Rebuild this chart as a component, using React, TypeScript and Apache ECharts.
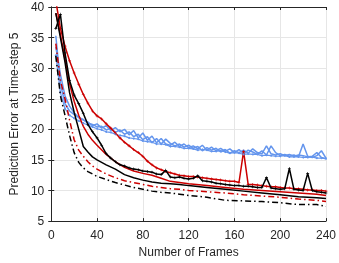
import React, { useEffect, useRef } from "react";
import * as echarts from "echarts";

// x positions (number of frames)
const framesFine = [
  4, 8, 12, 16, 20, 24, 28, 32, 36, 40, 44, 48, 52, 56, 60, 64, 68, 72, 76, 80,
  84, 88, 92, 96, 100, 104, 108, 112, 116, 120, 124, 128, 132, 136, 140, 144, 148, 152, 156, 160,
  164, 168, 172, 176, 180, 184, 188, 192, 196, 200, 204, 208, 212, 216, 220, 224, 228, 232, 236, 240,
];
const framesCoarse = [
  4, 8, 12, 16, 20, 24, 28, 32, 36, 40, 48, 56, 64, 72, 80, 88, 96, 104, 112, 120,
  136, 152, 168, 184, 200, 216, 232, 240,
];

// Blue series (fine)
const blueA = [
  35.3, 27.5, 24.2, 23.0, 22.4, 22.0, 21.5, 21.2, 20.6, 20.9, 20.2, 20.6, 19.8, 20.3, 19.6, 20.0, 19.1, 19.8, 18.6, 19.4,
  18.2, 18.9, 17.8, 18.5, 17.6, 17.4, 17.9, 17.2, 17.6, 17.0, 17.3, 16.8, 17.4, 16.6, 17.1, 16.5, 16.9, 16.4, 16.8, 16.2,
  16.7, 16.0, 16.6, 16.3, 15.9, 16.5, 15.8, 17.3, 16.2, 15.7, 15.9, 15.6, 15.8, 15.5, 17.6, 15.6, 15.4, 15.7, 16.5, 15.3,
];
const blueB = [
  32.1, 26.0, 23.4, 22.3, 21.8, 21.4, 21.0, 20.7, 20.4, 20.1, 19.9, 19.6, 19.5, 19.2, 19.0, 18.9, 18.6, 18.5, 18.4, 18.1,
  18.0, 17.9, 17.6, 17.6, 17.5, 17.2, 17.2, 17.1, 16.9, 16.9, 16.8, 16.6, 16.7, 16.6, 16.4, 16.4, 16.5, 16.3, 16.1, 16.2,
  16.1, 15.9, 16.0, 15.9, 15.9, 15.7, 15.8, 15.7, 15.6, 15.6, 15.7, 15.5, 15.5, 15.5, 15.4, 15.4, 15.5, 15.3, 15.3, 15.2,
];
const blueC = [
  33.5, 29.0, 25.5, 23.8, 22.7, 21.9, 21.6, 21.0, 20.8, 20.4, 20.5, 19.9, 20.2, 19.5, 19.9, 19.2, 19.6, 18.8, 19.2, 18.3,
  18.8, 17.8, 18.5, 17.6, 18.4, 17.7, 17.3, 17.6, 17.1, 17.4, 16.9, 17.2, 16.5, 17.0, 16.6, 16.9, 16.3, 16.7, 16.1, 16.5,
  16.2, 16.6, 16.1, 16.8, 16.2, 16.0, 17.3, 16.0, 15.8, 16.0, 15.7, 15.9, 15.6, 15.8, 15.7, 15.5, 15.6, 16.2, 15.4, 15.2,
];

// Red series
const redA = [
  41.0, 36.5, 33.6, 31.2, 29.2, 27.4, 25.7, 24.3, 23.0, 22.2, 21.7, 20.9, 20.2, 19.4, 18.6, 17.9, 17.3, 16.7, 16.2, 15.6,
  14.8, 14.2, 13.7, 13.4, 13.1, 12.9, 12.7, 12.5, 12.4, 12.3, 12.3, 12.2, 12.1, 12.0, 11.9, 11.8, 11.7, 11.6, 11.5, 11.5,
  11.3, 16.4, 11.0, 11.0, 10.9, 10.8, 10.7, 10.6, 10.6, 10.5, 10.4, 10.4, 10.3, 10.3, 10.2, 10.1, 10.1, 10.0, 10.0, 9.9,
];
const redB = [
  39.0, 35.5, 31.5, 27.5, 24.6, 22.3, 20.5, 19.2, 18.2, 17.4, 15.9, 14.7, 13.8, 13.2, 12.8, 12.5, 12.0, 11.5, 11.3, 11.1,
  10.8, 10.5, 10.2, 10.0, 9.8, 9.6, 9.4, 9.2,
];
const redC = [
  34.0, 28.0, 25.0, 21.5, 18.3, 16.6, 15.6, 14.7, 14.0, 13.5, 12.7, 12.1, 11.6, 11.3, 11.0, 10.7, 10.5, 10.3, 10.2, 10.0,
  9.8, 9.6, 9.3, 9.1, 8.9, 8.6, 8.4, 8.2,
];

// Black series
const blackA = [
  36.5, 38.8, 32.5, 28.0, 25.6, 24.2, 22.6, 20.8, 19.6, 18.6, 17.4, 16.0, 15.3, 14.7, 14.2, 14.0, 13.7, 13.5, 13.4, 13.2,
  13.1, 13.0, 12.7, 12.6, 13.3, 12.2, 12.1, 12.2, 12.0, 11.9, 12.0, 12.4, 11.6, 11.5, 11.4, 11.2, 11.1, 11.0, 10.9, 10.8,
  10.8, 10.7, 10.7, 10.6, 10.5, 10.5, 12.1, 10.4, 10.3, 10.2, 10.3, 13.6, 10.2, 10.1, 10.0, 12.8, 10.0, 9.8, 9.7, 9.6,
];
const blackB = [
  39.0, 35.0, 31.0, 26.0, 22.8, 20.0, 17.2, 16.3, 15.5, 15.0, 14.2, 13.5, 12.6, 12.1, 11.7, 11.4, 11.2, 11.1, 11.0, 10.8,
  10.5, 10.2, 9.9, 9.6, 9.3, 9.0, 8.8, 8.7,
];
const blackC = [
  32.0, 25.5, 22.3, 19.0, 16.2, 14.6, 13.7, 13.1, 12.7, 12.3, 11.8, 11.3, 10.9, 10.5, 10.2, 9.9, 9.7, 9.6, 9.4, 9.2,
  8.9, 8.4, 8.3, 8.2, 8.0, 7.7, 7.7, 7.4,
];

const xTicks = [0, 40, 80, 120, 160, 200, 240];
const yTicks = [5, 10, 15, 20, 25, 30, 35, 40];

const BLUE = "#6495ED";
const RED = "#CC0000";
const BLACK = "#000000";
const AXIS = "#262626";
const FONT = "Liberation Sans";
const PLUS = "path://M4,0H6V4H10V6H6V10H4V6H0V4H4Z";
const DASHDOT = [6, 3, 1.5, 3];

function zip(xs: number[], ys: number[]) {
  return ys.map((y, i) => [xs[i], y]);
}

export default function App() {
  const ref = useRef<HTMLDivElement>(null);
  useEffect(() => {
    if (!ref.current) return;
    const chart = echarts.init(ref.current, null, { renderer: "svg" });
    const line = (
      name: string,
      xs: number[],
      ys: number[],
      color: string,
      opts: any = {}
    ) => ({
      name,
      type: "line",
      data: zip(xs, ys),
      showSymbol: !!opts.symbol,
      symbol: opts.symbol || "none",
      symbolSize: opts.symbolSize || 3,
      itemStyle: { color },
      lineStyle: { color, width: opts.width || 1.5, type: opts.type || "solid" },
      clip: true,
      z: opts.z || 2,
    });
    chart.setOption({
      animation: false,
      textStyle: { fontFamily: FONT },
      grid: { left: 38, right: 12, top: 7, bottom: 36, containLabel: false },
      xAxis: [
        {
          type: "value",
          min: 0,
          max: 240,
          interval: 40,
          name: "Number of Frames",
          nameLocation: "middle",
          nameGap: 24,
          nameTextStyle: { color: AXIS, fontSize: 12, fontFamily: FONT },
          axisLine: { show: true, lineStyle: { color: AXIS, width: 1 } },
          axisTick: { show: true, inside: true, length: 3, lineStyle: { color: AXIS } },
          axisLabel: {
            color: AXIS,
            fontSize: 12,
            fontFamily: FONT,
            margin: 8,
            formatter: (v: number) => (xTicks.includes(v) ? String(v) : ""),
          },
          splitLine: { show: true, lineStyle: { color: "#e6e6e6", width: 1 } },
        },
        {
          type: "value",
          position: "top",
          min: 0,
          max: 240,
          interval: 40,
          axisLine: { show: true, lineStyle: { color: AXIS, width: 1 } },
          axisTick: { show: true, inside: true, length: 3, lineStyle: { color: AXIS } },
          axisLabel: { show: false },
          splitLine: { show: false },
        },
      ],
      yAxis: [
        {
          type: "value",
          min: 5,
          max: 40,
          interval: 5,
          name: "Prediction Error at Time-step 5",
          nameLocation: "middle",
          nameGap: 27,
          nameTextStyle: { color: AXIS, fontSize: 12, fontFamily: FONT },
          axisLine: { show: true, lineStyle: { color: AXIS, width: 1 } },
          axisTick: { show: true, inside: true, length: 3, lineStyle: { color: AXIS } },
          axisLabel: {
            color: AXIS,
            fontSize: 12,
            fontFamily: FONT,
            margin: 7,
            formatter: (v: number) => (yTicks.includes(v) ? String(v) : ""),
          },
          splitLine: { show: true, lineStyle: { color: "#e6e6e6", width: 1 } },
        },
        {
          type: "value",
          position: "right",
          min: 5,
          max: 40,
          interval: 5,
          axisLine: { show: true, lineStyle: { color: AXIS, width: 1 } },
          axisTick: { show: true, inside: true, length: 3, lineStyle: { color: AXIS } },
          axisLabel: { show: false },
          splitLine: { show: false },
        },
      ],
      series: [
        line("blueB", framesFine, blueB, BLUE, { symbol: "circle", symbolSize: 2, width: 1.2 }),
        line("blueC", framesFine, blueC, BLUE, {}),
        line("blueA", framesFine, blueA, BLUE, {}),
        line("redC", framesCoarse, redC, RED, { type: DASHDOT }),
        line("redB", framesCoarse, redB, RED, {}),
        line("redA", framesFine, redA, RED, { symbol: PLUS, symbolSize: 3 }),
        line("blackC", framesCoarse, blackC, BLACK, { type: DASHDOT, z: 3 }),
        line("blackB", framesCoarse, blackB, BLACK, { z: 3 }),
        line("blackA", framesFine, blackA, BLACK, { symbol: PLUS, symbolSize: 3, z: 3 }),
      ],
    });
    return () => chart.dispose();
  }, []);
  return (
    <div
      ref={ref}
      style={{ position: "fixed", left: 0, top: 0, width: 339, height: 263 }}
    />
  );
}
